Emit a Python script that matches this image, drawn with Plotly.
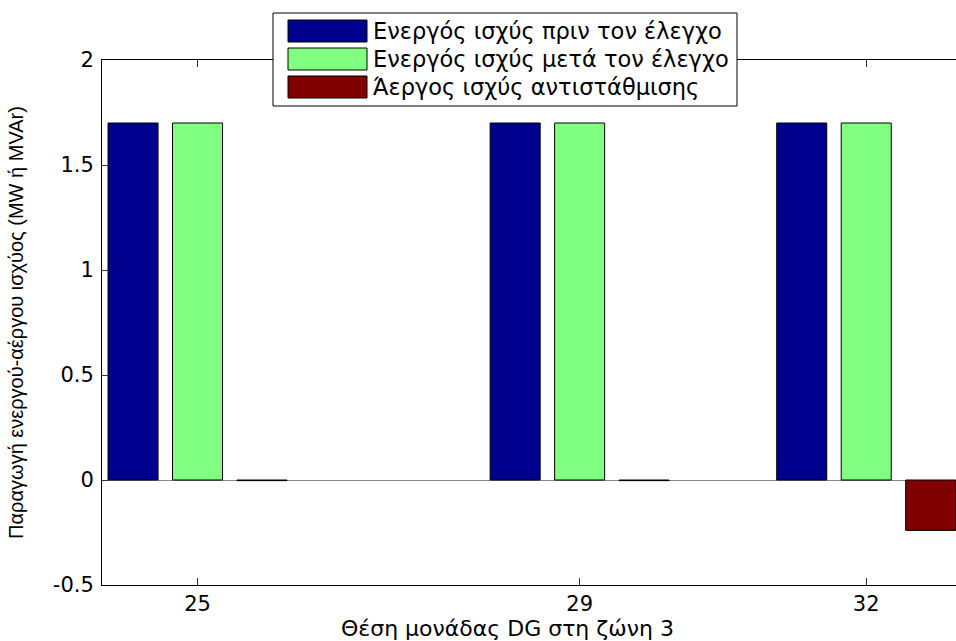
import plotly.graph_objects as go

# ---- data ----
positions = [25, 29, 32]
x_tick_labels = ["25", "29", "32"]
p_before = [1.7, 1.7, 1.7]
p_after = [1.7, 1.7, 1.7]
q_comp = [-0.003, -0.003, -0.24]
series_names = [
    "Ενεργός ισχύς πριν τον έλεγχο",
    "Ενεργός ισχύς μετά τον έλεγχο",
    "Άεργος ισχύς αντιστάθμισης",
]
y_ticks = [-0.5, 0, 0.5, 1, 1.5, 2]
y_tick_labels = ["-0.5", "0", "0.5", "1", "1.5", "2"]
x_title = "Θέση μονάδας DG στη ζώνη 3"
y_title = "Παραγωγή ενεργού-αέργου ισχύος (MW ή MVAr)"

# ---- style ----
colors = ["rgb(0,0,143)", "rgb(128,255,128)", "rgb(128,0,0)"]
W, H = 956, 641
L, R, T, B = 102, 0, 60, 56
PW, PH = W - L - R, H - T - B
FONT = "DejaVu Sans, Liberation Sans, Arial, sans-serif"


def px_x(px):
    return (px - L) / PW


def px_y(py):
    return (H - B - py) / PH


fig = go.Figure()
for name, vals, col in zip(series_names, [p_before, p_after, q_comp], colors):
    fig.add_trace(go.Bar(
        x=positions, y=vals, name=name,
        marker=dict(color=col, line=dict(color="black", width=1)),
        showlegend=False, hoverinfo="skip",
    ))

axis_font = dict(family=FONT, size=21, color="black")

fig.update_layout(
    width=W, height=H,
    margin=dict(l=L, r=R, t=T, b=B),
    paper_bgcolor="white", plot_bgcolor="white",
    barmode="group", bargap=0.325, bargroupgap=0.224,
    font=dict(family=FONT, size=19, color="black"),
    xaxis=dict(
        range=[24, 32.94], tickvals=positions, ticktext=x_tick_labels,
        ticks="inside", ticklen=7, tickcolor="#333", tickwidth=1,
        showline=True, linecolor="black", linewidth=1, mirror="ticks",
        showgrid=False, zeroline=False, tickfont=axis_font,
        ticklabelstandoff=0,
    ),
    yaxis=dict(
        range=[-0.5, 2], tickvals=y_ticks, ticktext=y_tick_labels,
        ticks="inside", ticklen=6, tickcolor="#333", tickwidth=1,
        showline=True, linecolor="black", linewidth=1,
        showgrid=False, zeroline=True, zerolinecolor="#888", zerolinewidth=1,
        tickfont=axis_font, ticklabelstandoff=3,
        title=dict(text=y_title, font=dict(family="Liberation Sans, Arial, sans-serif", size=20), standoff=23),
    ),
    yaxis2=dict(
        range=[-0.5, 2], tickvals=y_ticks, overlaying="y", side="right",
        ticks="inside", ticklen=5, tickcolor="#333", showticklabels=False,
        showline=False, showgrid=False, zeroline=False, anchor="x",
    ),
)

# x-axis title (placed where the original centres it)
fig.add_annotation(xref="paper", yref="paper", x=px_x(507), y=px_y(628),
                   xanchor="center", yanchor="middle", showarrow=False,
                   text=x_title, font=dict(family=FONT, size=22, color="black"))

# ---- legend drawn as box + swatches + text ----
box = dict(x0=273, x1=737, y0=13, y1=106)
fig.add_shape(type="rect", xref="paper", yref="paper",
              x0=px_x(box["x0"]), x1=px_x(box["x1"]),
              y0=px_y(box["y1"]), y1=px_y(box["y0"]),
              fillcolor="white", line=dict(color="black", width=1), layer="above")
row_centers = [31, 59, 87]
for name, col, cy in zip(series_names, colors, row_centers):
    fig.add_shape(type="rect", xref="paper", yref="paper",
                  x0=px_x(288), x1=px_x(367), y0=px_y(cy + 11), y1=px_y(cy - 11),
                  fillcolor=col, line=dict(color="black", width=1), layer="above")
    fig.add_annotation(xref="paper", yref="paper", x=px_x(371), y=px_y(cy),
                       xanchor="left", yanchor="middle", showarrow=False,
                       text=name, font=dict(family=FONT, size=22.5, color="black"))

fig.write_html("out.html", config={"displayModeBar": False},
               post_script="document.body.style.margin='0px';")
